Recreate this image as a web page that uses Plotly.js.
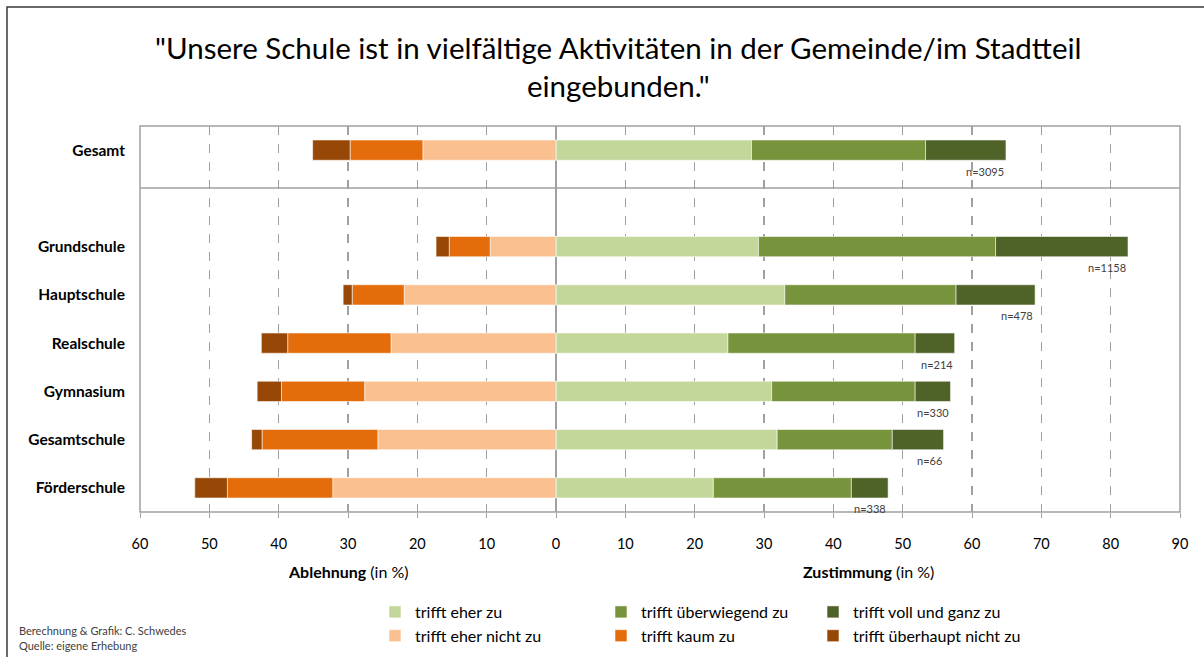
<!DOCTYPE html>
<html>
<head>
<meta charset="utf-8">
<script src="https://cdn.plot.ly/plotly-3.0.1.min.js"></script>
<style>
html,body{margin:0;padding:0;background:#fff;}
#chart{width:1204px;height:657px;}
</style>
</head>
<body>
<div id="chart"></div>
<script>
// ---- data ----
const categories = ["Gesamt", "Grundschule", "Hauptschule", "Realschule", "Gymnasium", "Gesamtschule", "Förderschule"];
const eherZu        = [28.2, 29.2, 33.0, 24.8, 31.1, 31.9, 22.7];
const ueberwiegend  = [25.1, 34.2, 24.7, 27.0, 20.7, 16.6, 19.9];
const vollGanz      = [11.6, 19.1, 11.4,  5.7,  5.1,  7.4,  5.3];
const eherNicht     = [19.2,  9.5, 21.9, 23.8, 27.6, 25.7, 32.2];
const kaum          = [10.5,  5.9,  7.5, 14.9, 12.0, 16.7, 15.2];
const ueberhaupt    = [ 5.4,  1.9,  1.3,  3.8,  3.5,  1.5,  4.7];
const nLabels       = ["n=3095", "n=1158", "n=478", "n=214", "n=330", "n=66", "n=338"];
const tickValues    = [-60, -50, -40, -30, -20, -10, 0, 10, 20, 30, 40, 50, 60, 70, 80, 90];

// ---- layout helpers ----
const yPos = categories.map((c, i) => (i === 0 ? 0 : i + 1));
const FONT = "Lato, 'Open Sans', sans-serif";

function barTrace(name, vals, color, sign, legend) {
  return {
    type: "bar",
    orientation: "h",
    name: name,
    x: vals.map(v => sign * v),
    y: yPos,
    width: 0.42,
    marker: {color: color, line: {color: "rgba(255,255,255,0.55)", width: 1}},
    legend: legend,
    hoverinfo: "name+x"
  };
}

const traces = [
  barTrace("trifft eher zu", eherZu, "#C4D79B", 1, "legend"),
  barTrace("trifft überwiegend zu", ueberwiegend, "#77933C", 1, "legend2"),
  barTrace("trifft voll und ganz zu", vollGanz, "#4F6228", 1, "legend3"),
  barTrace("trifft eher nicht zu", eherNicht, "#FAC090", -1, "legend"),
  barTrace("trifft kaum zu", kaum, "#E46C0A", -1, "legend2"),
  barTrace("trifft überhaupt nicht zu", ueberhaupt, "#974806", -1, "legend3")
];

const L = 140, T = 126, W = 1040, H = 386;
const px = x => (x - L) / W;
const py = y => (T + H - y) / H;

const annotations = categories.map((c, i) => ({
  x: eherZu[i] + ueberwiegend[i] + vollGanz[i],
  y: yPos[i],
  xref: "x", yref: "y",
  text: nLabels[i],
  showarrow: false,
  xanchor: "right",
  yanchor: "middle",
  yshift: -21,
  font: {family: FONT, size: 11, color: "#404040"}
}));

annotations.push(
  {x: px(618), y: py(67), xref: "paper", yref: "paper",
   text: "\"Unsere Schule ist in vielfältige Aktivitäten in der Gemeinde/im Stadtteil<br>eingebunden.\"",
   showarrow: false, align: "center", xanchor: "center", yanchor: "middle",
   font: {family: FONT, size: 29.5, color: "#000"}},
  {x: -30, y: py(571), xref: "x", yref: "paper", text: "<b>Ablehnung</b> (in %)", showarrow: false,
   font: {family: FONT, size: 16, color: "#000"}, xanchor: "center", yanchor: "middle"},
  {x: 45, y: py(571), xref: "x", yref: "paper", text: "<b>Zustimmung</b> (in %)", showarrow: false,
   font: {family: FONT, size: 16, color: "#000"}, xanchor: "center", yanchor: "middle"},
  {x: px(17), y: py(630), xref: "paper", yref: "paper", text: "Berechnung & Grafik: C. Schwedes", showarrow: false,
   font: {family: FONT, size: 11, color: "#404040"}, xanchor: "left", yanchor: "middle"},
  {x: px(17), y: py(645), xref: "paper", yref: "paper", text: "Quelle: eigene Erhebung", showarrow: false,
   font: {family: FONT, size: 11, color: "#404040"}, xanchor: "left", yanchor: "middle"}
);

const shapes = [
  {type: "rect", xref: "paper", yref: "paper", x0: 0, x1: 1, y0: 0, y1: 1,
   line: {color: "#A0A0A0", width: 1.5}, layer: "above"},
  {type: "line", xref: "paper", yref: "paper", x0: 0, x1: 1, y0: py(188), y1: py(188),
   line: {color: "#A0A0A0", width: 1.5}, layer: "above"},
  {type: "rect", xref: "paper", yref: "paper", x0: px(7), x1: px(1300), y0: py(7), y1: py(760),
   line: {color: "#3A3A3A", width: 1.5}, layer: "above"}
];

const legendBase = {
  orientation: "v", xanchor: "left", yanchor: "top",
  font: {family: FONT, size: 16, color: "#000"},
  traceorder: "normal", itemclick: false, itemdoubleclick: false,
  tracegroupgap: 0,
  bgcolor: "rgba(0,0,0,0)"
};
const legendTop = py(595);

const layout = {
  width: 1204, height: 657,
  margin: {l: L, r: 1204 - L - W, t: T, b: 657 - T - H, autoexpand: false},
  paper_bgcolor: "#fff", plot_bgcolor: "#fff",
  barmode: "relative",
  bargap: 0,
  showlegend: true,
  font: {family: FONT, size: 14, color: "#000"},
  xaxis: {
    range: [-60, 90],
    tickvals: tickValues,
    ticktext: tickValues.map(v => String(Math.abs(v))),
    showgrid: true, gridcolor: "#A0A0A0", griddash: "dash", gridwidth: 1.2,
    zeroline: true, zerolinecolor: "#A0A0A0", zerolinewidth: 1.5,
    ticks: "outside", ticklen: 5, tickcolor: "#A0A0A0",
    ticklabelstandoff: 14,
    tickfont: {family: FONT, size: 14.5, color: "#000"},
    showline: false, fixedrange: true
  },
  yaxis: {
    range: [7.5, -0.5],
    tickvals: yPos,
    ticktext: categories.map(c => "<b>" + c + "</b>"),
    showgrid: false, zeroline: false,
    ticks: "", ticklabelstandoff: 14,
    tickfont: {family: FONT, size: 15.5, color: "#000"},
    fixedrange: true
  },
  legend: Object.assign({x: px(375), y: legendTop}, legendBase),
  legend2: Object.assign({x: px(601), y: legendTop}, legendBase),
  legend3: Object.assign({x: px(813), y: legendTop}, legendBase),
  annotations: annotations,
  shapes: shapes
};

Plotly.newPlot("chart", traces, layout, {displayModeBar: false, staticPlot: true});
</script>
</body>
</html>
